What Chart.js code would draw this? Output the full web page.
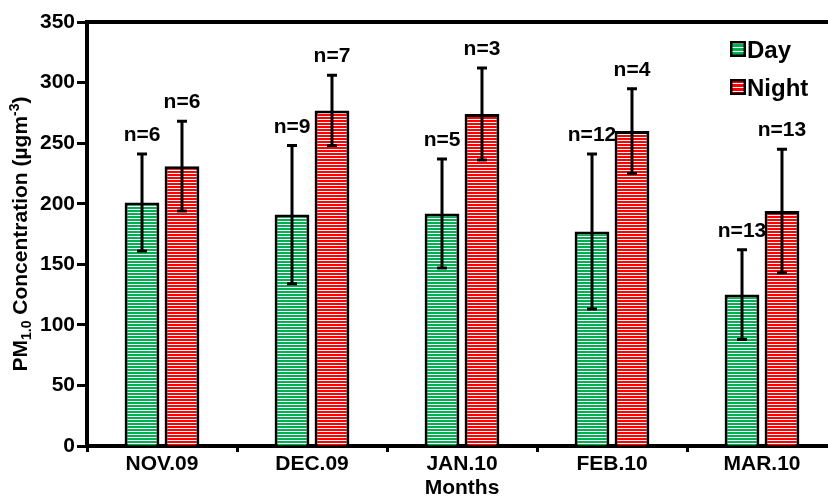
<!DOCTYPE html>
<html>
<head>
<meta charset="utf-8">
<script src="https://cdn.jsdelivr.net/npm/chart.js@4.4.0/dist/chart.umd.min.js"></script>
<style>
    html, body { margin: 0; padding: 0; overflow: hidden; background: #fff; }
    canvas { display: block; }
</style>
</head>
<body>
<canvas id="chart" width="840" height="499"></canvas>
<script>
// data
const months = ['NOV.09', 'DEC.09', 'JAN.10', 'FEB.10', 'MAR.10'];
const dayMean = [201, 191, 192, 177, 125];
const dayErr = [40, 57, 45, 64, 37];
const dayN = [6, 9, 5, 12, 13];
const nightMean = [231, 277, 274, 260, 194];
const nightErr = [37, 29, 38, 35, 51];
const nightN = [6, 7, 3, 4, 13];
const yTicks = [0, 50, 100, 150, 200, 250, 300, 350];

const FONT = '"Liberation Sans", Arial, Helvetica, sans-serif';

// horizontal stripe fill like the original hatch
function stripes(color, period) {
    const c = document.createElement('canvas');
    c.width = 8;
    c.height = period;
    const g = c.getContext('2d');
    g.fillStyle = '#ffffff';
    g.fillRect(0, 0, 8, period);
    g.fillStyle = color;
    g.fillRect(0, 0, 8, period - 1);
    return g.createPattern(c, 'repeat');
}

const dayColor = '#00b050';
const nightColor = '#ff0000';

// error bars + n= labels
const errorBars = {
    id: 'errorBars',
    afterDatasetsDraw(chart) {
        const ctx = chart.ctx;
        const y = chart.scales.y;
        chart.data.datasets.forEach((ds, i) => {
            const meta = chart.getDatasetMeta(i);
            meta.data.forEach((bar, j) => {
                const top = y.getPixelForValue(ds.data[j] + ds.errors[j]);
                const bot = y.getPixelForValue(ds.data[j] - ds.errors[j]);
                ctx.save();
                ctx.strokeStyle = '#000';
                ctx.lineWidth = 3;
                ctx.beginPath();
                ctx.moveTo(bar.x, top);
                ctx.lineTo(bar.x, bot);
                ctx.moveTo(bar.x - 5, top);
                ctx.lineTo(bar.x + 5, top);
                ctx.moveTo(bar.x - 5, bot);
                ctx.lineTo(bar.x + 5, bot);
                ctx.stroke();
                ctx.fillStyle = '#000';
                ctx.font = 'bold 21px ' + FONT;
                ctx.textAlign = 'center';
                ctx.textBaseline = 'alphabetic';
                ctx.fillText('n=' + ds.counts[j], bar.x, top - 13);
                ctx.restore();
            });
        });
    }
};

// frame, y title with sub/superscript, legend
const extras = {
    id: 'extras',
    afterDraw(chart) {
        const ctx = chart.ctx;
        const a = chart.chartArea;
        ctx.save();
        ctx.strokeStyle = '#000';
        ctx.lineWidth = 4;
        ctx.beginPath();
        ctx.moveTo(a.left, a.top);
        ctx.lineTo(a.right, a.top);
        ctx.lineTo(a.right, a.bottom);
        ctx.stroke();

        // y axis title
        const big = 'bold 21px ' + FONT;
        const small = 'bold 14px ' + FONT;
        const parts = [
            { t: 'PM', f: big, dy: 0 },
            { t: '1.0', f: small, dy: 4 },
            { t: ' Concentration (\u00b5gm', f: big, dy: 0 },
            { t: '-3', f: small, dy: -8 },
            { t: ')', f: big, dy: 0 }
        ];
        let total = 0;
        parts.forEach(p => { ctx.font = p.f; p.w = ctx.measureText(p.t).width; total += p.w; });
        ctx.translate(19, (a.top + a.bottom) / 2);
        ctx.rotate(-Math.PI / 2);
        ctx.fillStyle = '#000';
        ctx.textAlign = 'left';
        ctx.textBaseline = 'alphabetic';
        let x = -total / 2;
        parts.forEach(p => {
            ctx.font = p.f;
            ctx.fillText(p.t, x, 7.5 + p.dy);
            x += p.w;
        });
        ctx.restore();

        // legend
        ctx.save();
        chart.data.datasets.forEach((ds, i) => {
            const bx = a.right - 107;
            const by = a.top + 19 + i * 38;
            ctx.fillStyle = ds.legendFill;
            ctx.fillRect(bx, by, 16, 16);
            ctx.strokeStyle = '#000';
            ctx.lineWidth = 2.5;
            ctx.strokeRect(bx + 1.25, by + 1.25, 13.5, 13.5);
            ctx.fillStyle = '#000';
            ctx.font = 'bold 24px ' + FONT;
            ctx.textAlign = 'left';
            ctx.textBaseline = 'alphabetic';
            ctx.fillText(ds.label, bx + 17, by + 16.5);
        });
        ctx.restore();
    }
};

const ctx = document.getElementById('chart').getContext('2d');

new Chart(ctx, {
    type: 'bar',
    data: {
        labels: months,
        datasets: [{
            label: 'Day',
            data: dayMean,
            errors: dayErr,
            counts: dayN,
            backgroundColor: stripes(dayColor, 3),
            legendFill: stripes(dayColor, 4),
            borderColor: '#000',
            borderWidth: 3,
            categoryPercentage: 0.533,
            barPercentage: 0.87
        }, {
            label: 'Night',
            data: nightMean,
            errors: nightErr,
            counts: nightN,
            backgroundColor: stripes(nightColor, 3),
            legendFill: stripes(nightColor, 4),
            borderColor: '#000',
            borderWidth: 3,
            categoryPercentage: 0.533,
            barPercentage: 0.87
        }]
    },
    options: {
        responsive: false,
        animation: false,
        layout: { padding: { top: 22, right: 3, left: 0, bottom: 0 } },
        plugins: {
            legend: { display: false },
            tooltip: { enabled: false }
        },
        scales: {
            x: {
                z: 1,
                afterFit: (s) => { s.height = 53; },
                grid: {
                    drawOnChartArea: false,
                    drawTicks: true,
                    tickLength: 6,
                    tickWidth: 3,
                    tickColor: '#000',
                    offset: true
                },
                border: { display: true, color: '#000', width: 4 },
                ticks: {
                    color: '#000',
                    padding: 0,
                    font: { family: FONT, size: 21, weight: 'bold' }
                },
                title: {
                    display: true,
                    text: 'Months',
                    color: '#000',
                    padding: { top: 0, bottom: 0 },
                    font: { family: FONT, size: 21, weight: 'bold', lineHeight: 1 }
                }
            },
            y: {
                min: yTicks[0],
                max: yTicks[yTicks.length - 1],
                afterFit: (s) => { s.width = 87; },
                afterBuildTicks: (s) => { s.ticks = yTicks.map(v => ({ value: v })); },
                grid: {
                    drawOnChartArea: false,
                    drawTicks: true,
                    tickLength: 10,
                    tickWidth: 3,
                    tickColor: '#000'
                },
                border: { display: true, color: '#000', width: 4 },
                ticks: {
                    color: '#000',
                    padding: 2,
                    font: { family: FONT, size: 21, weight: 'bold' }
                }
            }
        }
    },
    plugins: [errorBars, extras]
});
</script>
</body>
</html>
